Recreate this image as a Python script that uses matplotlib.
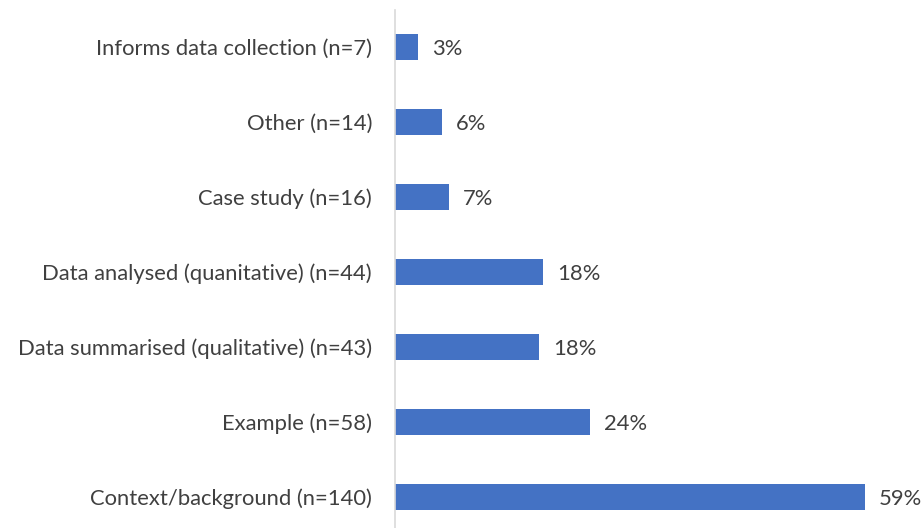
import numpy as np
import matplotlib as mpl
import matplotlib.pyplot as plt

mpl.rcParams['font.family'] = ['Lato', 'DejaVu Sans']

# categories, bottom to top
categories = ['Context/background (n=140)', 'Example (n=58)',
              'Data summarised (qualitative) (n=43)', 'Data analysed (quanitative) (n=44)',
              'Case study (n=16)', 'Other (n=14)', 'Informs data collection (n=7)']
percent = [59.1, 24.5, 18.1, 18.6, 6.75, 5.9, 2.95]
value_labels = ['59%', '24%', '18%', '18%', '7%', '6%', '3%']

bar_color = '#4472C4'
text_color = '#404040'

fig = plt.figure(figsize=(9.24, 5.28), dpi=100)
ax = fig.add_axes([395/924, -6.5/528, 529/924, 525/528])

y = np.arange(len(categories))
ax.barh(y, percent, height=0.35, color=bar_color)
# value labels right of the bars
for yi, v, lab in zip(y, percent, value_labels):
    ax.annotate(lab, (v, yi), xytext=(14, -2), textcoords='offset pixels',
                va='center', ha='left', fontsize=15.8, color=text_color)

ax.set_xlim(0, 66.5)
ax.set_ylim(-0.5, 6.5)
ax.set_yticks(y)
ax.set_yticklabels(categories, fontsize=15.8, color=text_color)
ax.set_xticks([])
ax.tick_params(axis='y', length=0, pad=16.5)
for s in ['top', 'right', 'bottom']:
    ax.spines[s].set_visible(False)
ax.spines['left'].set_color('#D9D9D9')
ax.spines['left'].set_linewidth(1.2)

fig.savefig('out.png', dpi=100)
